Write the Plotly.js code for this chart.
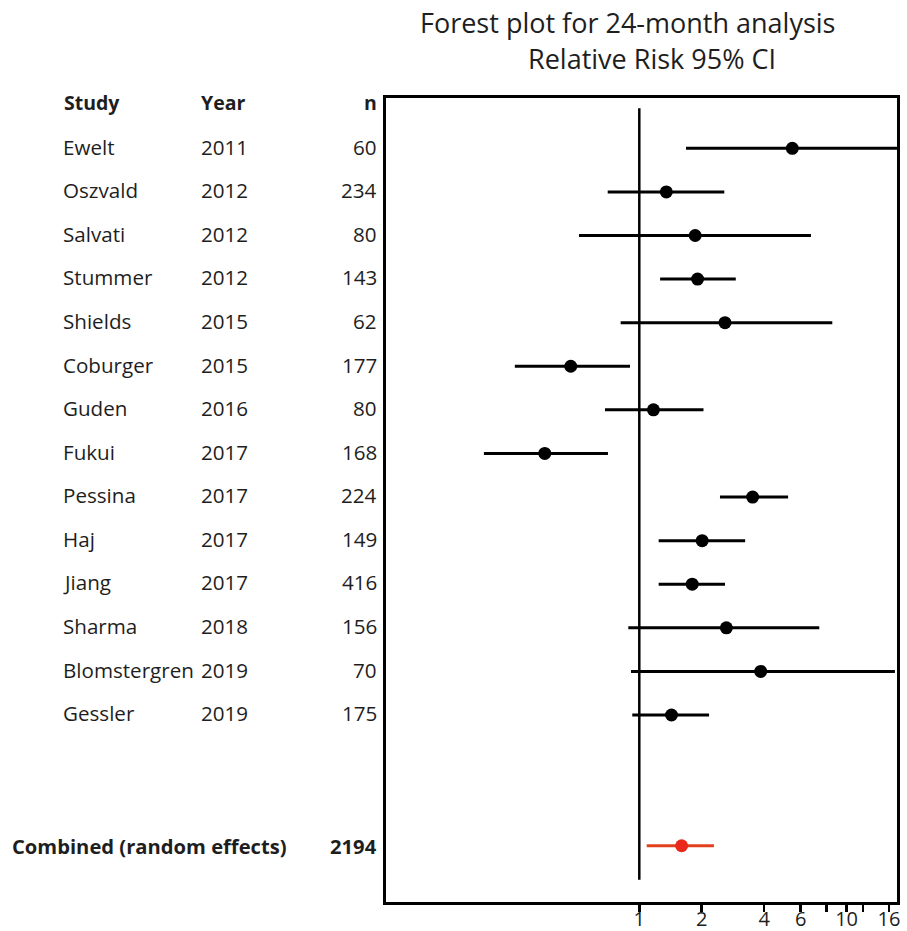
<!DOCTYPE html>
<html>
<head>
<meta charset="utf-8">
<script src="https://cdn.plot.ly/plotly-3.0.1.min.js"></script>
<style>html,body{margin:0;padding:0;background:#fff;}#chart{width:907px;height:931px;}</style>
</head>
<body>
<div id="chart"></div>
<script>
// ---- data ----
const studies = ["Ewelt","Oszvald","Salvati","Stummer","Shields","Coburger","Guden","Fukui","Pessina","Haj","Jiang","Sharma","Blomstergren","Gessler"];
const years = [2011,2012,2012,2012,2015,2015,2016,2017,2017,2017,2017,2018,2019,2019];
const nValues = [60,234,80,143,62,177,80,168,224,149,416,156,70,175];
const rrEst = [5.47,1.35,1.86,1.91,2.59,0.467,1.17,0.350,3.52,2.01,1.80,2.63,3.85,1.43];
const rrLow = [1.68,0.704,0.512,1.26,0.813,0.251,0.683,0.178,2.45,1.24,1.24,0.885,0.912,0.925];
const rrHigh = [20.0,2.57,6.73,2.92,8.53,0.902,2.04,0.706,5.22,3.24,2.59,7.38,17.1,2.17];
const combinedLabel = "Combined (random effects)";
const combinedN = 2194;
const combinedEst = 1.60;
const combinedLow = 1.086;
const combinedHigh = 2.29;
const tickValues = [1,2,4,6,8,10,12,16];
const tickLabels = ["1","2","4","6","","10","","16"];
const headers = ["Study","Year","n"];

// ---- layout helpers ----
const W = 907, H = 931;
const mL = 386, mR = 10, mT = 98, mB = 29;
const plotW = W - mL - mR;
const px = p => (p - mL) / plotW;   // pixel x -> paper x
const rowY = studies.map((s, i) => i + 1);
const combinedY = studies.length + 3;

const FONT = "'Open Sans', 'Noto Sans', sans-serif";
const TXT = "#1e1e1e";

const traces = [
  {
    type: "scatter", mode: "markers",
    x: rrEst, y: rowY,
    marker: {color: "#000", size: 13},
    error_x: {
      type: "data", symmetric: false,
      array: rrEst.map((v, i) => rrHigh[i] - v),
      arrayminus: rrEst.map((v, i) => v - rrLow[i]),
      color: "#000", thickness: 3, width: 0
    },
    hoverinfo: "x+y", showlegend: false
  },
  {
    type: "scatter", mode: "markers",
    x: [combinedEst], y: [combinedY],
    marker: {color: "#e8291c", size: 13},
    error_x: {
      type: "data", symmetric: false,
      array: [combinedHigh - combinedEst],
      arrayminus: [combinedEst - combinedLow],
      color: "#e0401c", thickness: 3, width: 0
    },
    showlegend: false
  }
];

const annotations = [];
const addText = (text, xPix, y, anchor, bold, size) => {
  annotations.push({
    xref: "paper", yref: "y", x: px(xPix), y: y,
    xanchor: anchor, yanchor: "middle", showarrow: false,
    text: bold ? "<b>" + text + "</b>" : text,
    font: {family: FONT, size: size || 20.6, color: TXT}
  });
};
addText(headers[0], 62, -0.05, "left", true, 19.5);
addText(headers[1], 199, -0.05, "left", true, 19.5);
addText(headers[2], 379, -0.05, "right", true, 19.5);
studies.forEach((s, i) => {
  addText(s, 61, rowY[i] - 0.04, "left", false);
  addText(String(years[i]), 199, rowY[i] - 0.04, "left", false);
  addText(String(nValues[i]), 379, rowY[i] - 0.04, "right", false);
});
addText(combinedLabel, 10, combinedY, "left", true, 20.2);
addText(String(combinedN), 379, combinedY, "right", true, 20.2);

annotations.push({
  xref: "paper", yref: "paper", x: px(627), y: 1 + (mT - 23) / (H - mT - mB),
  xanchor: "center", yanchor: "middle", showarrow: false,
  text: "Forest plot for 24-month analysis",
  font: {family: FONT, size: 27, color: TXT}
});
annotations.push({
  xref: "paper", yref: "paper", x: px(652), y: 1 + (mT - 58) / (H - mT - mB),
  xanchor: "center", yanchor: "middle", showarrow: false,
  text: "Relative Risk 95% CI",
  font: {family: FONT, size: 27, color: TXT}
});

const layout = {
  width: W, height: H,
  margin: {l: mL, r: mR, t: mT, b: mB, pad: 0},
  paper_bgcolor: "#fff", plot_bgcolor: "#fff",
  showlegend: false,
  xaxis: {
    type: "log",
    range: [Math.log10(0.06), Math.log10(17.5)],
    tickvals: tickValues, ticktext: tickLabels,
    ticks: "outside", ticklen: 7, tickwidth: 2.5, tickcolor: "#000",
    ticklabelstandoff: -10,
    showgrid: false, zeroline: false,
    showline: true, linecolor: "#000", linewidth: 3, mirror: true,
    tickfont: {family: FONT, size: 20, color: TXT},
    fixedrange: true
  },
  yaxis: {
    range: [18.29, -0.154],
    showticklabels: false, ticks: "", showgrid: false, zeroline: false,
    showline: true, linecolor: "#000", linewidth: 3, mirror: true,
    fixedrange: true
  },
  shapes: [{
    type: "line", xref: "x", yref: "y",
    x0: 1, x1: 1, y0: 0.08, y1: 17.78,
    line: {color: "#000", width: 2.5}
  }],
  annotations: annotations
};

Plotly.newPlot("chart", traces, layout, {displayModeBar: false, staticPlot: true});
</script>
</body>
</html>
